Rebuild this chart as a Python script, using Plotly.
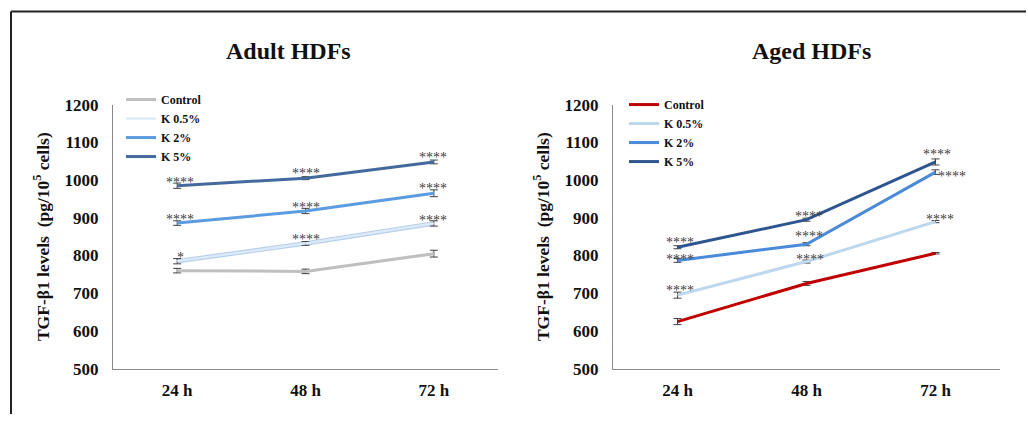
import plotly.graph_objects as go

times = ["24 h", "48 h", "72 h"]
series_names = ["Control", "K 0.5%", "K 2%", "K 5%"]

adult_control = [760, 758, 805]
adult_k05 = [785, 832, 885]
adult_k2 = [886, 918, 965]
adult_k5 = [985, 1005, 1048]
adult_err_control = [6, 6, 9]
adult_err_k05 = [7, 5, 7]
adult_err_k2 = [6, 7, 9]
adult_err_k5 = [7, 4, 5]
adult_stars_k05 = ["*", "****", "****"]
adult_stars_k2 = ["****", "****", "****"]
adult_stars_k5 = ["****", "****", "****"]

aged_control = [625, 726, 806]
aged_k05 = [695, 784, 890]
aged_k2 = [787, 830, 1021]
aged_k5 = [822, 895, 1048]
aged_err_control = [8, 5, 2]
aged_err_k05 = [8, 4, 3]
aged_err_k2 = [5, 4, 6]
aged_err_k5 = [4, 4, 8]
aged_stars_k05 = ["****", "****", "****"]
aged_stars_k2 = ["****", "****", "****"]
aged_stars_k5 = ["****", "****", "****"]

adult_colors = ["#BFBFBF", "#DDEBF8", "#5B9BE0", "#44699C"]
aged_colors = ["#C00000", "#BDD7EE", "#4A8AD8", "#2F5590"]

SERIF = "Liberation Serif, Times New Roman, serif"
W, H = 1028, 424

fig = go.Figure()

adult_vals = [adult_control, adult_k05, adult_k2, adult_k5]
adult_errs = [adult_err_control, adult_err_k05, adult_err_k2, adult_err_k5]
aged_vals = [aged_control, aged_k05, aged_k2, aged_k5]
aged_errs = [aged_err_control, aged_err_k05, aged_err_k2, aged_err_k5]

# outline for the pale adult K 0.5% line
fig.add_trace(go.Scatter(x=times, y=adult_k05, mode="lines", line=dict(color="#B8CFEA", width=4.5),
                         showlegend=False, xaxis="x", yaxis="y", hoverinfo="skip"))
for name, vals, errs, col in zip(series_names, adult_vals, adult_errs, adult_colors):
    fig.add_trace(go.Scatter(
        x=times, y=vals, name=name, mode="lines",
        line=dict(color=col, width=3 if name != "K 0.5%" else 2.2),
        error_y=dict(type="data", array=errs, visible=True, color="#404040", thickness=1, width=4),
        xaxis="x", yaxis="y", legend="legend"))

for name, vals, errs, col in zip(series_names, aged_vals, aged_errs, aged_colors):
    fig.add_trace(go.Scatter(
        x=times, y=vals, name=name, mode="lines",
        line=dict(color=col, width=3),
        error_y=dict(type="data", array=errs, visible=True, color="#404040", thickness=1, width=4),
        xaxis="x2", yaxis="y2", legend="legend2"))

def add_stars(xa, ya, vals, stars, xshifts, yshifts):
    for t, v, s, dx, dy in zip(times, vals, stars, xshifts, yshifts):
        fig.add_annotation(x=t, y=v, xref=xa, yref=ya, text=s, showarrow=False,
                           xshift=dx, yshift=dy,
                           font=dict(family=SERIF, size=14, color="#404040"))

add_stars("x", "y", adult_k05, adult_stars_k05, [3, 0, -1], [4, 4, 3])
add_stars("x", "y", adult_k2, adult_stars_k2, [3, 0, -1], [4, 3, 5])
add_stars("x", "y", adult_k5, adult_stars_k5, [3, 0, -1], [3, 5, 4])
add_stars("x2", "y2", aged_k05, aged_stars_k05, [2, 3, 4], [5, 2, 2])
add_stars("x2", "y2", aged_k2, aged_stars_k2, [2, 2, 16], [1, 8, -4])
add_stars("x2", "y2", aged_k5, aged_stars_k5, [2, 2, 1], [5, 3, 7])

# the page is photographed with a slight vertical squeeze; map wanted pixel rows to layout rows
def px_x(p):
    return p / W

def px_y(p):
    q = (p - 9.5) / 0.9545
    return 1 - q / H

tickfont = dict(family=SERIF, size=17, color="#111111", weight="bold")
axis_common = dict(showgrid=False, zeroline=False, showline=True, linecolor="#888888", linewidth=1.3,
                   ticks="", tickfont=tickfont)
ytitle = dict(text="TGF-β1 levels  (pg/10<sup>5</sup> cells)", standoff=10,
              font=dict(family=SERIF, size=17.5, color="#111111", weight="bold"))
legfont = dict(family=SERIF, size=12, color="#111111", weight="bold")

fig.update_layout(
    width=W, height=H, autosize=False,
    margin=dict(l=0, r=0, t=0, b=0),
    paper_bgcolor="white", plot_bgcolor="white",
    xaxis=dict(domain=[px_x(113), px_x(498)], anchor="y", type="category", range=[-0.5, 2.5],
               ticklabelstandoff=6, **axis_common),
    yaxis=dict(domain=[px_y(369), px_y(105)], anchor="x", range=[500, 1200], dtick=100,
               title=ytitle, ticklabelstandoff=10, **axis_common),
    xaxis2=dict(domain=[px_x(613), px_x(1000)], anchor="y2", type="category", range=[-0.5, 2.5],
                ticklabelstandoff=6, **axis_common),
    yaxis2=dict(domain=[px_y(369), px_y(105)], anchor="x2", range=[500, 1200], dtick=100,
                title=ytitle, ticklabelstandoff=10, **axis_common),
    legend=dict(x=px_x(121), y=px_y(85.5), xanchor="left", yanchor="top", bgcolor="rgba(0,0,0,0)",
                font=legfont, tracegroupgap=0, itemwidth=30),
    legend2=dict(x=px_x(624), y=px_y(90.5), xanchor="left", yanchor="top", bgcolor="rgba(0,0,0,0)",
                 font=legfont, tracegroupgap=0, itemwidth=30),
    showlegend=True,
)

fig.add_annotation(x=px_x(288), y=px_y(51), xref="paper", yref="paper", text="Adult HDFs", showarrow=False,
                   xanchor="center", yanchor="middle",
                   font=dict(family=SERIF, size=24, color="#111111", weight="bold"))
fig.add_annotation(x=px_x(811), y=px_y(51), xref="paper", yref="paper", text="Aged HDFs", showarrow=False,
                   xanchor="center", yanchor="middle",
                   font=dict(family=SERIF, size=24, color="#111111", weight="bold"))

# frame lines (left and top of the cropped figure border)
fig.add_shape(type="line", xref="paper", yref="paper", x0=px_x(11), x1=px_x(11), y0=0, y1=px_y(12),
              line=dict(color="#222222", width=2))
fig.add_shape(type="line", xref="paper", yref="paper", x0=px_x(11), x1=px_x(1026), y0=px_y(12), y1=px_y(12),
              line=dict(color="#222222", width=2))

fig.write_html("out.html", config={"responsive": False, "displayModeBar": False},
               post_script="document.body.style.margin='0';document.body.style.overflow='hidden';")
